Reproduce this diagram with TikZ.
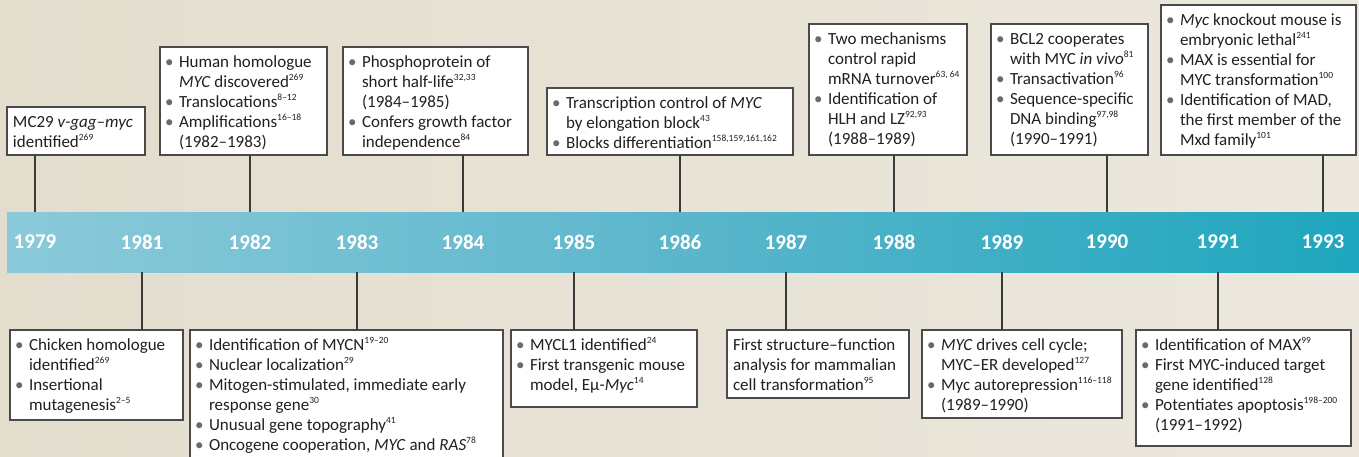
\documentclass[tikz,border=0pt]{standalone}
\usepackage{fontspec}
\setmainfont{Carlito}
\usepackage{graphicx}
\definecolor{bgL}{HTML}{E3DDCE}
\definecolor{bgR}{HTML}{ECE8DE}
\definecolor{barL}{HTML}{8BCADA}
\definecolor{barM}{HTML}{5BB6CB}
\definecolor{barR}{HTML}{1EA6BE}
\definecolor{txt}{HTML}{231F20}
\definecolor{bulc}{HTML}{6A6A6A}
\definecolor{edge}{HTML}{4A4A4A}
\definecolor{conc}{HTML}{3A3A3A}

\newcommand\sups[1]{\raisebox{6.5pt}{\fontsize{9.5}{10}\selectfont #1}}
\newcommand\bulg{\textcolor{bulc}{\scalebox{1.0}{•}}}
\newcommand\evi[1]{\par\noindent\strut\makebox[0pt][l]{\makebox[14pt][l]{\bulg}#1}}
\newcommand\evc[1]{\par\noindent\strut\makebox[0pt][l]{\hspace*{14pt}#1}}
\newcommand\evp[1]{\par\noindent\strut\makebox[0pt][l]{\hspace*{1pt}#1}}
\newcommand\evbox[6]{%
  \node[evb, minimum width={#4pt-#2pt}, minimum height={#5pt-#3pt}, anchor=north west] (#1) at (#2,#3)
  {\parbox[c][\dimexpr#5pt-#3pt-12pt\relax][t]{\dimexpr#4pt-#2pt-10pt\relax}{#6}};}

\tikzset{
  evb/.style={draw=edge, line width=1.2pt, fill=white, inner sep=0pt, outer sep=0pt,
    text=txt, font=\fontsize{17}{20}\selectfont},
  yr/.style={text=white, inner sep=0pt, font=\fontsize{21}{22}\selectfont\bfseries},
  conn/.style={draw=conc, line width=1.1pt},
}

\begin{document}
\begin{tikzpicture}[x=1pt,y=-1pt]
\useasboundingbox (0,0) rectangle (1359,456);
\clip (0,0) rectangle (1359,456);
\fill[left color=bgL, right color=bgR] (0,0) rectangle (1359,456);

% timeline bar
\node[minimum width=1352pt, minimum height=60pt, inner sep=0pt, outer sep=0pt, anchor=north west,
  left color=barL, right color=barR, middle color=barM] (bar) at (7,212) {};

% years
\node[yr] (y1979) at (35,242) {1979};
\node[yr] (y1981) at (142,242) {1981};
\node[yr] (y1982) at (250,242) {1982};
\node[yr] (y1983) at (357,242) {1983};
\node[yr] (y1984) at (463,242) {1984};
\node[yr] (y1985) at (574,242) {1985};
\node[yr] (y1986) at (680,242) {1986};
\node[yr] (y1987) at (786,242) {1987};
\node[yr] (y1988) at (894,242) {1988};
\node[yr] (y1989) at (1002,242) {1989};
\node[yr] (y1990) at (1107,242) {1990};
\node[yr] (y1991) at (1218,242) {1991};
\node[yr] (y1993) at (1323,242) {1993};

% top boxes
\evbox{b79}{7}{107}{145}{155}{%
  \evp{MC29 \textit{v-gag–myc}}\evp{identified\sups{269}}}
\evbox{b82}{160}{47}{327}{155}{%
  \evi{Human homologue}\evc{\textit{MYC} discovered\sups{269}}%
  \evi{Translocations\sups{8–12}}%
  \evi{Amplifications\sups{16–18}}\evc{(1982–1983)}}
\evbox{b84}{343}{47}{528}{155}{%
  \evi{Phosphoprotein of}\evc{short half-life\sups{32,33}}\evc{(1984–1985)}%
  \evi{Confers growth factor}\evc{independence\sups{84}}}
\evbox{b86}{547}{88}{793}{155}{%
  \evi{Transcription control of \textit{MYC}}\evc{by elongation block\sups{43}}%
  \evi{Blocks differentiation\sups{158,159,161,162}}}
\evbox{b88}{809}{24}{967}{155}{%
  \evi{Two mechanisms}\evc{control rapid}\evc{mRNA turnover\sups{63, 64}}%
  \evi{Identification of}\evc{HLH and LZ\sups{92,93}}\evc{(1988–1989)}}
\evbox{b90}{991}{24}{1148}{155}{%
  \evi{BCL2 cooperates}\evc{with MYC \textit{in vivo}\sups{81}}%
  \evi{Transactivation\sups{96}}%
  \evi{Sequence-specific}\evc{DNA binding\sups{97,98}}\evc{(1990–1991)}}
\evbox{b93}{1161}{5}{1356}{155}{%
  \evi{\textit{Myc} knockout mouse is}\evc{embryonic lethal\sups{241}}%
  \evi{MAX is essential for}\evc{MYC transformation\sups{100}}%
  \evi{Identification of MAD,}\evc{the first member of the}\evc{Mxd family\sups{101}}}

% bottom boxes
\evbox{t81}{10}{330}{183}{420}{%
  \evi{Chicken homologue}\evc{identified\sups{269}}%
  \evi{Insertional}\evc{mutagenesis\sups{2–5}}}
\evbox{t83}{190}{330}{503}{462}{%
  \evi{Identification of MYCN\sups{19–20}}%
  \evi{Nuclear localization\sups{29}}%
  \evi{Mitogen-stimulated, immediate early}\evc{response gene\sups{30}}%
  \evi{Unusual gene topography\sups{41}}%
  \evi{Oncogene cooperation, \textit{MYC} and \textit{RAS}\sups{78}}}
\evbox{t85}{511}{330}{697}{407}{%
  \evi{MYCL1 identified\sups{24}}%
  \evi{First transgenic mouse}\evc{model, Eμ-\textit{Myc}\sups{14}}}
\evbox{t87}{727}{330}{909}{398}{%
  \evp{First structure–function}\evp{analysis for mammalian}\evp{cell transformation\sups{95}}}
\evbox{t89}{922}{330}{1122}{418}{%
  \evi{\textit{MYC} drives cell cycle;}\evc{MYC–ER developed\sups{127}}%
  \evi{Myc autorepression\sups{116–118}}\evc{(1989–1990)}}
\evbox{t91}{1136}{330}{1351}{446}{%
  \evi{Identification of MAX\sups{99}}%
  \evi{First MYC-induced target}\evc{gene identified\sups{128}}%
  \evi{Potentiates apoptosis\sups{198–200}}\evc{(1991–1992)}}

% connectors
\draw[conn] (b79.south -| y1979) -- (y1979 |- bar.north);
\draw[conn] (b82.south -| y1982) -- (y1982 |- bar.north);
\draw[conn] (b84.south -| y1984) -- (y1984 |- bar.north);
\draw[conn] (b86.south -| y1986) -- (y1986 |- bar.north);
\draw[conn] (b88.south -| y1988) -- (y1988 |- bar.north);
\draw[conn] (b90.south -| y1990) -- (y1990 |- bar.north);
\draw[conn] (b93.south -| y1993) -- (y1993 |- bar.north);
\draw[conn] (y1981 |- bar.south) -- (t81.north -| y1981);
\draw[conn] (y1983 |- bar.south) -- (t83.north -| y1983);
\draw[conn] (y1985 |- bar.south) -- (t85.north -| y1985);
\draw[conn] (y1987 |- bar.south) -- (t87.north -| y1987);
\draw[conn] (y1989 |- bar.south) -- (t89.north -| y1989);
\draw[conn] (y1991 |- bar.south) -- (t91.north -| y1991);
\end{tikzpicture}
\end{document}
